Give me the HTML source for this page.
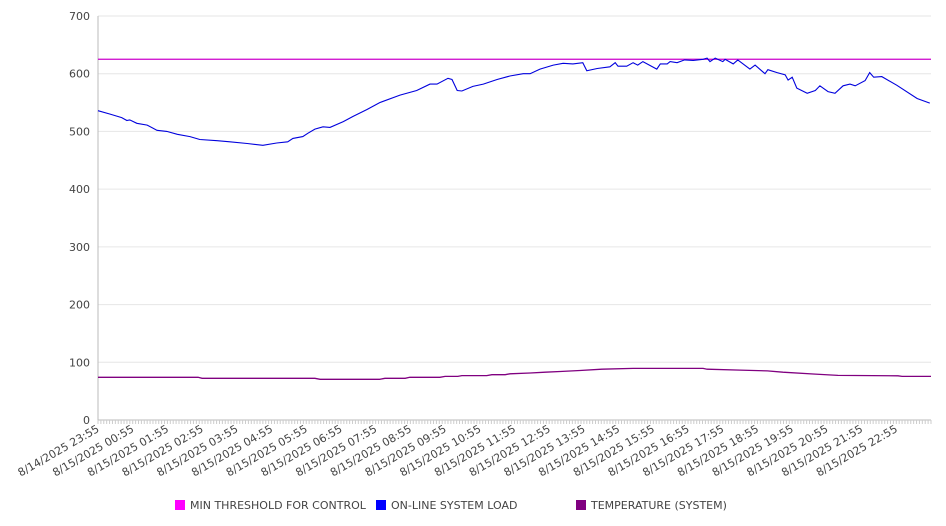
<!DOCTYPE html>
<html><head><meta charset="utf-8"><style>
body{margin:0;background:#fff;}
svg{display:block;font-family:"DejaVu Sans","Liberation Sans",sans-serif;}
</style></head><body>
<svg id="chart" width="946" height="526" viewBox="0 0 946 526" xmlns="http://www.w3.org/2000/svg">
<g id="grid"></g>
<g id="yaxis"></g>
<g id="xaxis"></g>
<g id="series"></g>
<g id="legend">
  <g>
    <rect x="175" y="500" width="10" height="10" fill="#ff00ff"/>
    <text x="190" y="509" font-size="11" fill="#444">MIN THRESHOLD FOR CONTROL</text>
  </g>
  <g>
    <rect x="376" y="500" width="10" height="10" fill="#0000ff"/>
    <text x="391" y="509" font-size="11" fill="#444">ON-LINE SYSTEM LOAD</text>
  </g>
  <g>
    <rect x="576" y="500" width="10" height="10" fill="#800080"/>
    <text x="591" y="509" font-size="11" fill="#444">TEMPERATURE (SYSTEM)</text>
  </g>
</g>
</svg>
<script>
const yTicks = [0,100,200,300,400,500,600,700];
const xTickLabels = ["8/14/2025 23:55","8/15/2025 00:55","8/15/2025 01:55","8/15/2025 02:55","8/15/2025 03:55","8/15/2025 04:55","8/15/2025 05:55","8/15/2025 06:55","8/15/2025 07:55","8/15/2025 08:55","8/15/2025 09:55","8/15/2025 10:55","8/15/2025 11:55","8/15/2025 12:55","8/15/2025 13:55","8/15/2025 14:55","8/15/2025 15:55","8/15/2025 16:55","8/15/2025 17:55","8/15/2025 18:55","8/15/2025 19:55","8/15/2025 20:55","8/15/2025 21:55","8/15/2025 22:55"];
const thresholdValue = 625;
const loadMinutes = [0,21,41,50,55,67,85,102,119,137,159,176,206,228,258,285,309,328,337,354,363,375,389,401,424,441,465,487,522,551,574,586,605,612,621,629,648,666,690,712,735,747,764,787,804,821,838,845,863,885,894,899,914,925,933,942,966,972,984,989,1001,1014,1029,1046,1053,1058,1067,1080,1084,1098,1106,1127,1136,1153,1158,1174,1188,1193,1200,1208,1226,1240,1248,1262,1274,1288,1300,1309,1326,1334,1341,1355,1381,1416,1438];
const loadValues = [536,530,524,519,520,514,511,502,500,495,491,486,484,482,479,476,480,482,488,491,497,504,508,507,517,526,538,550,563,571,582,582,592,590,571,570,578,582,590,596,600,600,608,615,618,617,619,605,609,612,619,613,613,619,615,621,608,617,617,621,619,624,623,625,627,621,627,621,625,617,624,608,615,600,607,602,598,589,594,575,566,571,579,569,566,579,582,579,588,602,594,595,580,557,549];
const tempMinutes = [0,173,180,375,384,487,496,531,539,591,600,622,629,672,681,704,712,747,773,799,833,871,925,1046,1053,1110,1157,1184,1240,1279,1383,1390,1440];
const tempValues = [74,74,72.2,72.2,70.5,70.5,72.2,72.2,74,74,75.5,75.5,77,77,78.5,78.5,80,81.5,82.8,84,85.7,88,89.4,89.4,88,86.5,85,82.8,79.5,77.2,76.6,75.5,75.5];

const X0=98, X1=931, Y0=420, Y1=16, TOTAL=1440, YMAX=700;
const xs = m => X0 + (m/TOTAL)*(X1-X0);
const ys = v => Y0 - (v/YMAX)*(Y0-Y1);
const NS="http://www.w3.org/2000/svg";
function mk(tag, attrs, parent){const e=document.createElementNS(NS,tag);for(const k in attrs)e.setAttribute(k,attrs[k]);parent.appendChild(e);return e;}
const grid=document.getElementById('grid'), yaxis=document.getElementById('yaxis'), xaxis=document.getElementById('xaxis'), series=document.getElementById('series');

yTicks.forEach(v=>{
  const y=ys(v);
  if(v>0){
    const l=mk('line',{x1:X0,x2:X1,y1:y,y2:y,stroke:'#e6e6e6','stroke-width':1},grid);
    
    
  }
  const t=mk('text',{x:90,y:y+4,'text-anchor':'end','font-size':11,fill:'#444'},yaxis);
  t.textContent=v;
  
  
});
const ax=mk('line',{x1:X0,x2:X0,y1:Y1,y2:Y0,stroke:'#bbb','stroke-width':1},yaxis);


const bx=mk('line',{x1:X0,x2:X1,y1:Y0,y2:Y0,stroke:'#bbb','stroke-width':1},xaxis);


for(let m=0;m<=TOTAL;m+=5){
  const x=xs(m);
  const tk=mk('line',{x1:x,x2:x,y1:Y0,y2:Y0+4,stroke:'#ccc','stroke-width':1},xaxis);
  
  
}
xTickLabels.forEach((s,i)=>{
  const x=xs(i*60)+2, y=Y0+11;
  const t=mk('text',{x:x,y:y,'text-anchor':'end','font-size':11,fill:'#444',transform:`rotate(-30 ${x} ${y})`},xaxis);
  t.textContent=s;
  
  
});

const th=mk('line',{x1:X0,x2:X1,y1:ys(thresholdValue),y2:ys(thresholdValue),stroke:'#cc00cc','stroke-width':1.2},series);



const lp=mk('polyline',{points:loadMinutes.map((m,i)=>xs(m).toFixed(1)+','+ys(loadValues[i]).toFixed(1)).join(' '),fill:'none',stroke:'#0000dd','stroke-width':1.1},series);



const tp=mk('polyline',{points:tempMinutes.map((m,i)=>xs(m).toFixed(1)+','+ys(tempValues[i]).toFixed(1)).join(' '),fill:'none',stroke:'#800080','stroke-width':1.3},series);


</script>
</body></html>
